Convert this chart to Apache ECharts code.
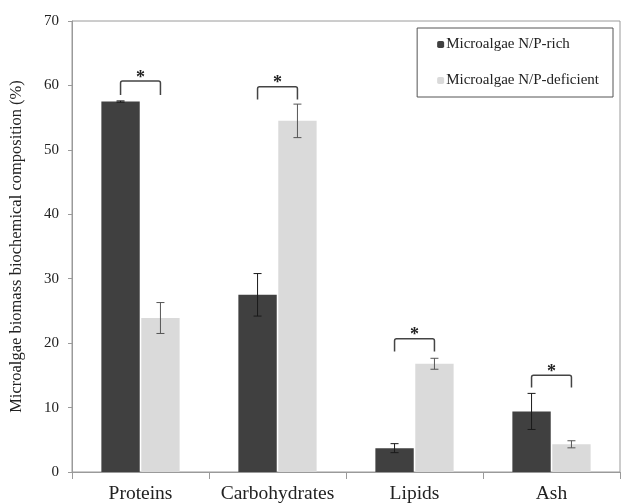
<!DOCTYPE html>
<html><head><meta charset="utf-8">
<script src="https://cdn.jsdelivr.net/npm/echarts@6/dist/echarts.min.js"></script>
<style>html,body{margin:0;padding:0;background:#fff}#c{width:621px;height:504px}</style>
</head><body><div id="c"></div>
<script>
var categories = ['Proteins', 'Carbohydrates', 'Lipids', 'Ash'];
var seriesNames = ['Microalgae N/P-rich', 'Microalgae N/P-deficient'];
var richValues = [57.5, 27.5, 3.7, 9.4];
var richErrors = [0.1, 3.3, 0.7, 2.8];
var deficientValues = [23.9, 54.5, 16.8, 4.3];
var deficientErrors = [2.4, 2.6, 0.85, 0.55];
var bracketTops = [60.7, 59.8, 20.7, 15.0];
var bracketBottoms = [58.5, 57.8, 18.7, 13.1];
var yTicks = [0, 10, 20, 30, 40, 50, 60, 70];

var FONT = 'Liberation Serif';
var BAR_W = 0.28, BAR_GAP = 0.04;
function offsetPx(api, side) {
  var band = api.size([1, 0])[0];
  var w = band * BAR_W;
  return side * w * (1 + BAR_GAP) / 2;
}
function errData(vals, errs) {
  return vals.map(function (v, i) { return [i, v, errs[i]]; });
}
function errSeries(vals, errs, side, color) {
  return {
    type: 'custom', z: 5, silent: true,
    data: errData(vals, errs),
    renderItem: function (params, api) {
      var i = api.value(0), v = api.value(1), e = api.value(2);
      var dx = offsetPx(api, side);
      var hi = api.coord([i, v + e]), lo = api.coord([i, v - e]);
      var x = hi[0] + dx, cap = 4;
      var st = { stroke: color, lineWidth: 1 };
      return { type: 'group', children: [
        { type: 'line', shape: { x1: x, y1: hi[1], x2: x, y2: lo[1] }, style: st },
        { type: 'line', shape: { x1: x - cap, y1: hi[1], x2: x + cap, y2: hi[1] }, style: st },
        { type: 'line', shape: { x1: x - cap, y1: lo[1], x2: x + cap, y2: lo[1] }, style: st }
      ]};
    }
  };
}

var chart = echarts.init(document.getElementById('c'));
chart.setOption({
  animation: false,
  textStyle: { fontFamily: FONT },
  grid: { left: 72, right: 1, top: 21, bottom: 31, show: true, borderColor: '#9a9a9a', borderWidth: 1 },
  legend: {
    data: seriesNames, orient: 'vertical', right: 8, top: 28,
    itemWidth: 7, itemHeight: 7, itemGap: 21,
    padding: [9, 14, 9, 20],
    backgroundColor: '#fff', borderColor: '#555', borderWidth: 1,
    textStyle: { fontFamily: FONT, fontSize: 15, color: '#222', padding: [0, 0, 0, -3] }
  },
  xAxis: {
    type: 'category', data: categories,
    axisLine: { lineStyle: { color: '#9a9a9a' } },
    axisTick: { show: true, interval: 0, length: 7, lineStyle: { color: '#9a9a9a' } },
    axisLabel: { interval: 0, hideOverlap: false, fontFamily: FONT, fontSize: 19.5, color: '#222', margin: 12 }
  },
  yAxis: {
    type: 'value', min: yTicks[0], max: yTicks[yTicks.length - 1], interval: 10,
    name: 'Microalgae biomass biochemical composition (%)',
    nameLocation: 'middle', nameGap: 47,
    nameTextStyle: { fontFamily: FONT, fontSize: 16.5, color: '#222' },
    axisLine: { show: true, lineStyle: { color: '#9a9a9a' } },
    axisTick: { show: true, length: 4, lineStyle: { color: '#9a9a9a' } },
    splitLine: { show: false },
    axisLabel: { fontFamily: FONT, fontSize: 15, color: '#222', margin: 13 }
  },
  series: [
    { name: seriesNames[0], type: 'bar', data: richValues, barWidth: (BAR_W * 100) + '%', barGap: (BAR_GAP * 100) + '%',
      itemStyle: { color: '#404040' } },
    { name: seriesNames[1], type: 'bar', data: deficientValues, barWidth: (BAR_W * 100) + '%',
      itemStyle: { color: '#dadada' } },
    errSeries(richValues, richErrors, -1, '#1a1a1a'),
    errSeries(deficientValues, deficientErrors, 1, '#555'),
    {
      type: 'custom', z: 6, silent: true,
      data: categories.map(function (c, i) { return [i, bracketTops[i], bracketBottoms[i]]; }),
      renderItem: function (params, api) {
        var i = api.value(0);
        var t = api.coord([i, api.value(1)]), b = api.coord([i, api.value(2)]);
        var xl = t[0] + offsetPx(api, -1), xr = t[0] + offsetPx(api, 1);
        var r = 2;
        return { type: 'group', children: [
          { type: 'path', shape: { pathData:
              'M' + xl + ' ' + b[1] + 'L' + xl + ' ' + (t[1] + r) + 'Q' + xl + ' ' + t[1] + ' ' + (xl + r) + ' ' + t[1] +
              'L' + (xr - r) + ' ' + t[1] + 'Q' + xr + ' ' + t[1] + ' ' + xr + ' ' + (t[1] + r) + 'L' + xr + ' ' + b[1] },
            style: { fill: null, stroke: '#444', lineWidth: 1.5 } },
          { type: 'text', x: (xl + xr) / 2, y: t[1] + 6,
            style: { text: '*', font: 'bold 18px "' + FONT + '"', fill: '#222', align: 'center', verticalAlign: 'bottom' } }
        ]};
      }
    }
  ]
});
</script></body></html>
